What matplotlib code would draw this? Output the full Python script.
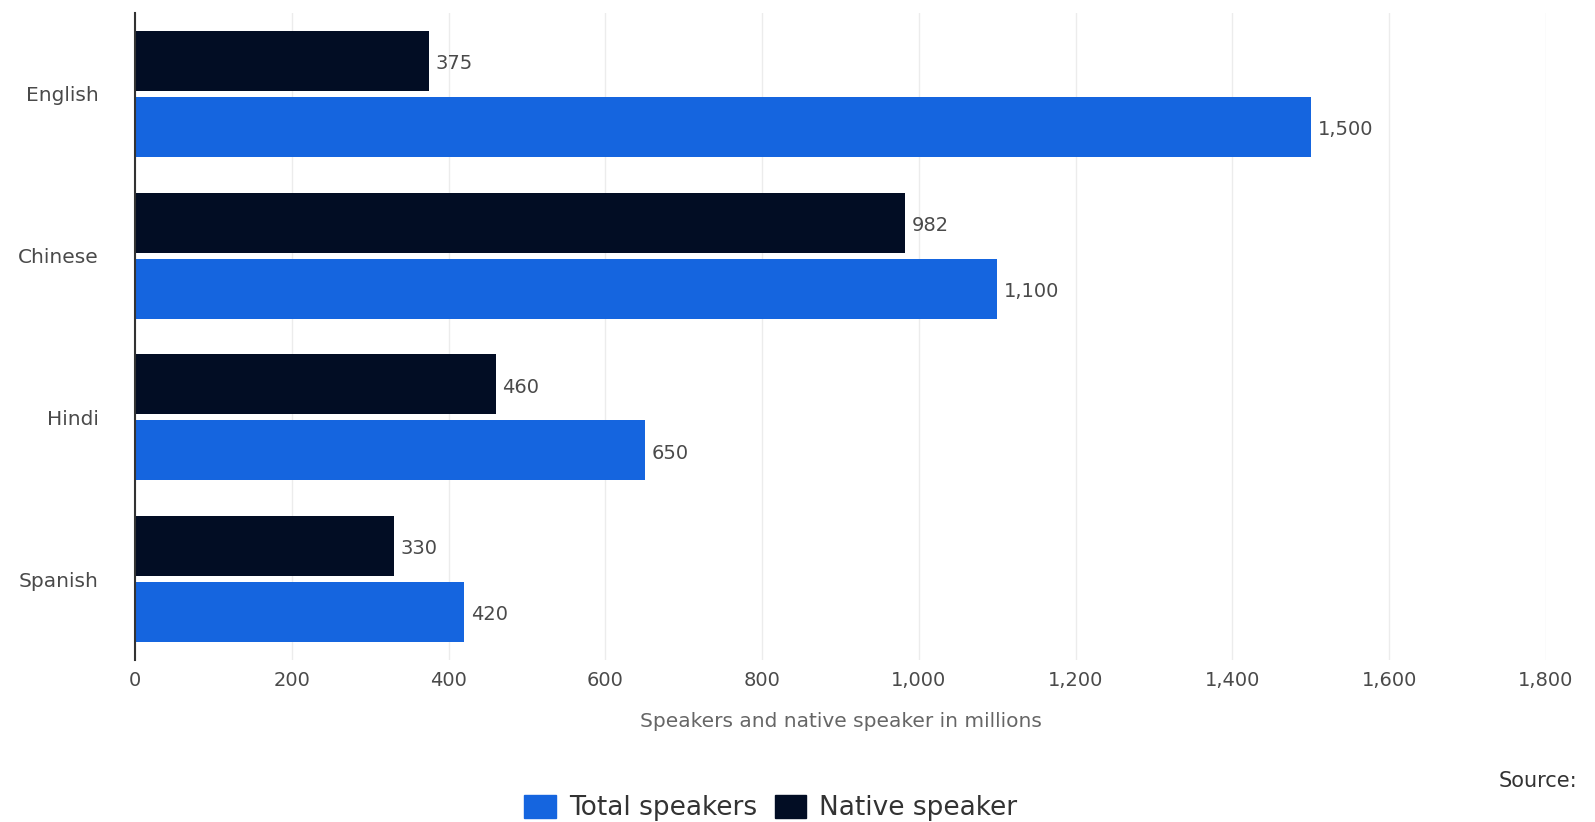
import matplotlib.pyplot as plt
import numpy as np
from matplotlib.ticker import FuncFormatter

languages = ["English", "Chinese", "Hindi", "Spanish"]
total_speakers = [1500, 1100, 650, 420]
native_speakers = [375, 982, 460, 330]

color_total = "#1565df"
color_native = "#020d24"
text_grey = "#4a4a4a"

W, H = 1595, 822
fig = plt.figure(figsize=(W / 100, H / 100), dpi=100)
# axes box in pixels: left 135, right 1546, top 13, bottom 660
ax = fig.add_axes([135 / W, 1 - 660 / H, (1546 - 135) / W, (660 - 13) / H])

y = np.arange(len(languages))
h = 0.371
off = h / 2 + 0.019

bars_native = ax.barh(y - off, native_speakers, height=h, color=color_native, zorder=3)
bars_total = ax.barh(y + off, total_speakers, height=h, color=color_total, zorder=3)

for bars in (bars_native, bars_total):
    for b in bars:
        w = b.get_width()
        ax.annotate(f"{w:,.0f}", (w, b.get_y() + b.get_height() / 2),
                    xytext=(5, -2), textcoords="offset points",
                    va="center", ha="left", fontsize=14, color=text_grey)

ax.set_ylim(3.5, -0.5)
ax.set_xlim(0, 1800)
ax.set_xticks(range(0, 1801, 200))
ax.xaxis.set_major_formatter(FuncFormatter(lambda v, p: f"{v:,.0f}"))
ax.set_yticks(y)
ax.set_yticklabels(languages)
ax.tick_params(axis="both", length=0, labelcolor=text_grey)
ax.tick_params(axis="x", labelsize=14, pad=8)
ax.tick_params(axis="y", labelsize=14.5, pad=26)
ax.grid(axis="x", color="#ececec", linewidth=1, zorder=0)
for s in ["top", "right", "bottom"]:
    ax.spines[s].set_visible(False)
ax.spines["left"].set_color("#333333")
ax.spines["left"].set_linewidth(1.5)
ax.spines["left"].set_zorder(4)

ax.set_xlabel("Speakers and native speaker in millions", fontsize=14.5,
              color="#666666", labelpad=16)

handles = [plt.Rectangle((0, 0), 1, 1, color=color_total),
           plt.Rectangle((0, 0), 1, 1, color=color_native)]
fig.legend(handles, ["Total speakers", "Native speaker"], loc="center",
           bbox_to_anchor=(771 / W, 1 - 808 / H), ncol=2, frameon=False, fontsize=19,
           handlelength=1.2, handleheight=1.0, handletextpad=0.5, columnspacing=0.65,
           labelcolor="#333333", borderpad=0, borderaxespad=0)

fig.text(1577 / W, 1 - 781 / H, "Source:", ha="right", va="center",
         fontsize=15, color="#333333")

fig.savefig("out.png", dpi=100)
